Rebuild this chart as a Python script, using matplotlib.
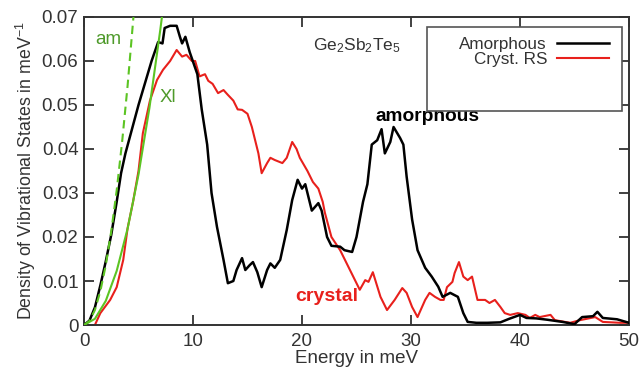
import matplotlib
matplotlib.use("Agg")
import matplotlib.pyplot as plt
from matplotlib.patches import Rectangle

plt.rcParams['font.family'] = ['Liberation Sans', 'DejaVu Sans']
plt.rcParams['mathtext.fontset'] = 'custom'
plt.rcParams['mathtext.rm'] = 'Liberation Sans'
plt.rcParams['mathtext.it'] = 'Liberation Sans'

# Amorphous DOS
amor_E = [0, 0.5, 1.0, 1.5, 2.0, 2.5, 3.0, 3.4, 3.8, 4.4, 5.0, 5.6, 6.2, 6.8, 7.2, 7.4, 7.9,
          8.5, 8.8, 9.0, 9.3, 9.7, 10.4, 10.8, 11.3, 11.7, 12.2, 12.8, 13.2, 13.7, 14.0,
          14.5, 14.8, 15.2, 15.5, 15.9, 16.3, 16.8, 17.1, 17.5, 18.0, 18.6, 19.1, 19.6,
          20.0, 20.3, 20.5, 20.9, 21.5, 21.8, 22.3, 22.7, 23.5, 23.9, 24.6, 25.0, 25.6,
          26.0, 26.4, 26.9, 27.3, 27.6, 28.1, 28.4, 29.0, 29.3, 29.6, 30.1, 30.6, 31.3,
          31.9, 32.5, 32.9, 33.6, 34.3, 34.8, 35.2, 36.0, 37.0, 38.2, 39.0, 40.0, 40.6,
          41.5, 42.5, 43.9, 45.0, 45.7, 46.7, 47.1, 47.6, 48.9, 50.0]
amor_g = [0, 0.001, 0.004, 0.009, 0.0145, 0.0205, 0.028, 0.0345, 0.039, 0.0445, 0.050, 0.055,
          0.060, 0.0643, 0.064, 0.0675, 0.068, 0.068, 0.0655, 0.064, 0.0655, 0.062, 0.057,
          0.049, 0.041, 0.030, 0.0223, 0.0148, 0.0095, 0.010, 0.0125, 0.0152, 0.0125,
          0.0136, 0.0143, 0.012, 0.0086, 0.0125, 0.014, 0.013, 0.0148, 0.0216, 0.0284,
          0.033, 0.031, 0.032, 0.030, 0.026, 0.0277, 0.026, 0.020, 0.018, 0.0178, 0.017,
          0.0166, 0.020, 0.028, 0.032, 0.041, 0.042, 0.0445, 0.039, 0.0416, 0.045, 0.0425,
          0.041, 0.0337, 0.024, 0.017, 0.013, 0.011, 0.0087, 0.0064, 0.0073, 0.0064,
          0.0027, 0.0007, 0.0005, 0.0005, 0.0006, 0.0014, 0.0023, 0.0016, 0.0015, 0.0012,
          0.0007, 0.0002, 0.0018, 0.002, 0.003, 0.0016, 0.0013, 0.0005]

# Crystalline rock-salt DOS
cryst_E = [1.0, 1.5, 2.4, 3.0, 3.6, 4.0, 4.5, 5.0, 5.4, 6.05, 6.7, 7.25, 7.9, 8.5, 9.0, 9.4,
           9.9, 10.2, 10.6, 11.1, 11.4, 11.8, 12.3, 12.8, 13.2, 13.7, 14.1, 14.5, 15.0,
           15.4, 15.7, 16.0, 16.3, 16.8, 17.1, 17.5, 18.2, 18.6, 19.1, 19.5, 19.8, 20.5,
           21.0, 21.5, 21.9, 22.1, 22.7, 23.5, 24.1, 24.7, 25.3, 25.8, 26.1, 26.5, 27.2,
           27.8, 28.5, 29.2, 29.6, 30.1, 30.6, 31.3, 31.7, 32.2, 32.7, 33.0, 33.3, 33.8,
           34.0, 34.4, 34.8, 35.2, 35.6, 36.1, 36.8, 37.2, 37.7, 38.2, 38.6, 39.1, 39.8,
           40.5, 40.9, 41.4, 41.8, 42.8, 43.2, 44.6, 45.5, 46.9, 47.6, 49.2, 50.0]
cryst_g = [0, 0.0027, 0.0057, 0.0086, 0.0148, 0.022, 0.028, 0.035, 0.0436, 0.051, 0.0557,
           0.058, 0.060, 0.0625, 0.061, 0.0614, 0.060, 0.060, 0.0565, 0.057, 0.0555, 0.0548,
           0.0527, 0.0534, 0.0523, 0.051, 0.049, 0.0489, 0.048, 0.045, 0.042, 0.039, 0.0345,
           0.0368, 0.038, 0.0375, 0.0368, 0.038, 0.0416, 0.040, 0.038, 0.035, 0.0325, 0.031,
           0.028, 0.0255, 0.020, 0.017, 0.014, 0.011, 0.008, 0.0102, 0.0098, 0.012, 0.0064,
           0.0034, 0.0057, 0.0084, 0.0073, 0.0041, 0.0018, 0.0057, 0.0073, 0.0064, 0.0057,
           0.0057, 0.0086, 0.0098, 0.0118, 0.0143, 0.011, 0.0102, 0.011, 0.0057, 0.0057,
           0.005, 0.0057, 0.0041, 0.0027, 0.0023, 0.0027, 0.0023, 0.0016, 0.0023, 0.0018,
           0.0023, 0.0011, 0.0005, 0.0011, 0.0018, 0.0007, 0.0005, 0.0005]

# Debye-like low-energy fits
am_fit_E = [0, 0.5, 1.0, 1.5, 2.0, 2.5, 3.0, 3.5, 4.0, 4.55]
am_fit_g = [0, 0.0009, 0.0034, 0.0077, 0.0136, 0.0213, 0.0306, 0.0417, 0.0544, 0.0704]
xl_fit_E = [0, 1, 2, 3, 4, 5, 6, 7, 7.2]
xl_fit_g = [0, 0.0014, 0.0055, 0.0123, 0.0219, 0.0342, 0.0493, 0.0671, 0.0710]

x_ticks = [0, 10, 20, 30, 40, 50]
y_ticks = [0, 0.01, 0.02, 0.03, 0.04, 0.05, 0.06, 0.07]
y_ticklabels = ['0', '0.01', '0.02', '0.03', '0.04', '0.05', '0.06', '0.07']

fig = plt.figure(figsize=(6.43, 3.71), dpi=100)
ax = fig.add_axes([84/643, 1-325/371, 545/643, 308/371])

green = '#5cc423'
ax.plot(am_fit_E, am_fit_g, color=green, lw=1.5, ls=(0, (4, 2.5)), zorder=4)
ax.plot(xl_fit_E, xl_fit_g, color=green, lw=1.5, zorder=4)
l1, = ax.plot(amor_E, amor_g, color='black', lw=1.8, zorder=3)
l2, = ax.plot(cryst_E, cryst_g, color='#e8201c', lw=1.5, zorder=2)

ax.set_xlim(0, 50)
ax.set_ylim(0, 0.07)
ax.set_xticks(x_ticks)
ax.set_yticks(y_ticks)
ax.set_yticklabels(y_ticklabels)
ax.tick_params(direction='in', top=True, right=True, length=7.5, width=1.3,
               labelsize=13.5, colors='#333333', pad=4)
ax.tick_params(axis='x', pad=6)
for s in ax.spines.values():
    s.set_linewidth(1.4)
    s.set_color('#333333')

ax.set_xlabel('Energy in meV', fontsize=13.5, color='#333333', labelpad=0)
ax.set_ylabel('Density of Vibrational States in meV$^{-1}$', fontsize=12.8,
              color='#333333', labelpad=3)

ax.text(2.2, 0.0648, 'am', color='#4e9a2a', fontsize=13.5, ha='center', va='center')
ax.text(7.7, 0.0518, 'Xl', color='#4e9a2a', fontsize=13.5, ha='center', va='center')
ax.text(31.5, 0.0473, 'amorphous', color='black', fontsize=13.8, fontweight='bold',
        ha='center', va='center')
ax.text(22.3, 0.0064, 'crystal', color='#e8201c', fontsize=14, fontweight='bold',
        ha='center', va='center')
ax.text(21.0, 0.0635, 'Ge$_2$Sb$_2$Te$_5$', color='#333333', fontsize=12.5,
        ha='left', va='center')

# legend box
ax.add_patch(Rectangle((0.629, 0.695), 0.358, 0.273, transform=ax.transAxes,
                       facecolor='white', edgecolor='#555555', lw=1.2, zorder=5))
leg = ax.legend([l1, l2], ['Amorphous', 'Cryst. RS'], loc='upper right',
                bbox_to_anchor=(0.975, 0.958), frameon=False, markerfirst=False,
                fontsize=12.3, handlelength=3.0, handletextpad=0.6, labelspacing=0.0,
                borderaxespad=0)
leg.set_zorder(6)
for t in leg.get_texts():
    t.set_color('#333333')

fig.savefig('out.png', dpi=100)
